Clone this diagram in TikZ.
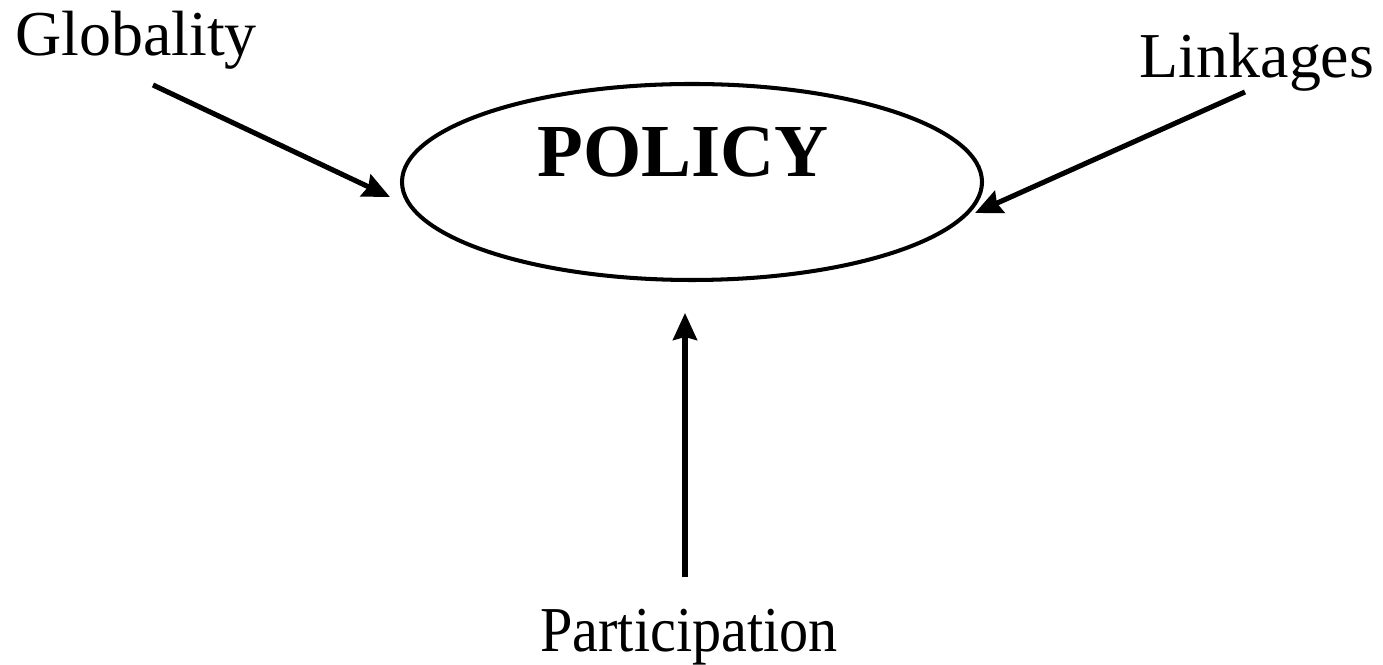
\documentclass[tikz,border=0pt]{standalone}
\usepackage{fontspec}
\setmainfont{Liberation Serif}
\usetikzlibrary{arrows.meta,shapes.geometric}
\begin{document}
\begin{tikzpicture}[
  x=1cm,y=1cm,
  label/.style={inner sep=0pt,anchor=base,font=\fontsize{18.2pt}{20pt}\selectfont},
  conn/.style={line width=1.45pt,-{Stealth[length=0.27cm,width=0.24cm,inset=0.03cm]}},
  hub/.style={ellipse,draw,line width=1.15pt,minimum width=5.80cm,minimum height=1.96cm,inner sep=0pt}
]
\useasboundingbox (0,0) rectangle (13.83,-6.65);

% central ellipse and its title
\node[hub] (policy) at (6.92,-1.82) {};
\node[inner sep=0pt,anchor=base,font=\fontsize{21.3pt}{24pt}\selectfont\bfseries] (title) at (6.83,-1.77) {POLICY};

% the three outer labels
\node[label] (glob) at (1.36,-0.56) {Globality};
\node[label] (link) at (12.57,-0.78) {Linkages};
\node[label] (part) at (6.89,-6.52) {\scalebox{0.91}[1]{Participation}};

% arrow ends
\coordinate (gS) at (1.53,-0.85);
\coordinate (gT) at (3.90,-1.97);
\coordinate (lS) at (12.45,-0.92);
\coordinate (lT) at (9.75,-2.13);
\coordinate (pS) at (6.85,-5.77);
\coordinate (pT) at (6.85,-3.13);

\draw[conn] (gS) -- (gT);
\draw[conn] (lS) -- (lT);
\draw[conn] (pS) -- (pT);
\end{tikzpicture}
\end{document}
